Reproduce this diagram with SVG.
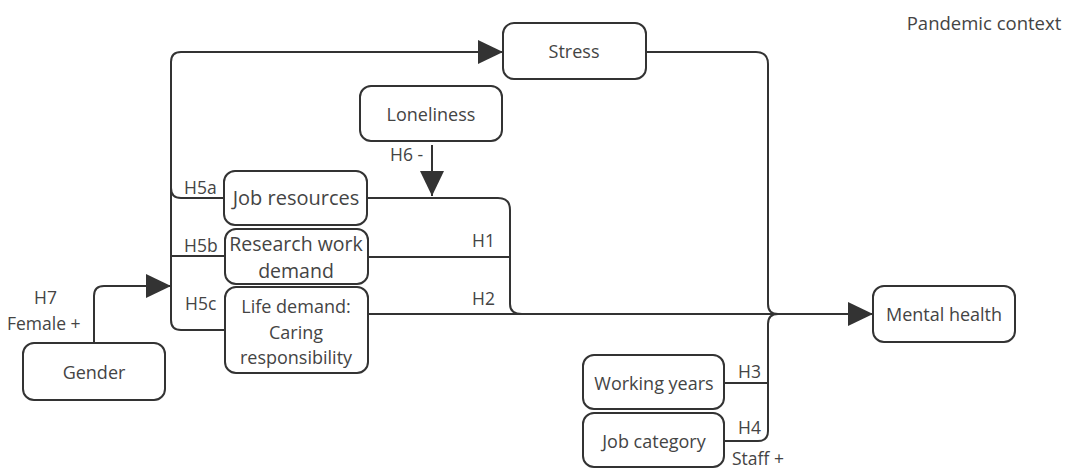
<svg xmlns="http://www.w3.org/2000/svg" width="1070" height="468" viewBox="0 0 1070 468">
<style>
.box{fill:#fff;stroke:#333;stroke-width:2}
.t{font-family:"Open Sans","Liberation Sans",sans-serif;font-size:18px;fill:#444;text-anchor:middle;dominant-baseline:central}
.l{font-family:"Open Sans","Liberation Sans",sans-serif;font-size:17.5px;fill:#444;dominant-baseline:central}
.c{fill:none;stroke:#333;stroke-width:2}
</style>
<defs>
<marker id="ah" viewBox="0 0 25 24" refX="25" refY="12" markerWidth="25" markerHeight="24" markerUnits="userSpaceOnUse" orient="auto">
<path d="M0,0 L25,12 L0,24 Z" fill="#333"/>
</marker>
</defs>
<text class="t" x="984" y="22" style="font-size:18.5px">Pandemic context</text>
<g id="connectors">
<path class="c" d="M225,330 H181 Q171,330 171,320 V62 Q171,52 181,52 H503" marker-end="url(#ah)"/>
<path class="c" d="M224,198 H181 Q171,198 171,188"/>
<path class="c" d="M171,256 H225"/>
<path class="c" d="M94,343 V296 Q94,286 104,286 H171" marker-end="url(#ah)"/>
<path class="c" d="M432,145 V196" marker-end="url(#ah)"/>
<path class="c" d="M367,198 H498 Q510,198 510,210 V304 Q510,314 522,314 H873" marker-end="url(#ah)"/>
<path class="c" d="M368,257 H510"/>
<path class="c" d="M368,314 H522"/>
<path class="c" d="M646,52 H756 Q768,52 768,64 V304 Q768,314 778,314"/>
<path class="c" d="M778,314 Q768,314 768,324 V431 Q768,441 758,441 H725"/>
<path class="c" d="M725,383 H768"/>
</g>
<g id="stress"><rect class="box" x="503" y="23" width="143" height="56" rx="11"/><text class="t" x="574" y="51">Stress</text></g>
<g id="loneliness"><rect class="box" x="360" y="86" width="142" height="55" rx="11"/><text class="t" x="431" y="114">Loneliness</text></g>
<g id="job-resources"><rect class="box" x="224" y="171" width="143" height="54" rx="11"/><text class="t" x="296" y="197" style="font-size:20px">Job resources</text></g>
<g id="research-work-demand"><rect class="box" x="225" y="229" width="143" height="55" rx="11"/><text class="t" x="296" y="243" style="font-size:19.5px">Research work</text><text class="t" x="296" y="270" style="font-size:19.5px">demand</text></g>
<g id="life-demand"><rect class="box" x="225" y="287" width="143" height="86" rx="11"/><text class="t" x="296" y="306">Life demand:</text><text class="t" x="296" y="332">Caring</text><text class="t" x="296" y="357">responsibility</text></g>
<g id="gender"><rect class="box" x="23" y="343" width="142" height="57" rx="11"/><text class="t" x="94" y="372">Gender</text></g>
<g id="mental-health"><rect class="box" x="873" y="286" width="142" height="56" rx="11"/><text class="t" x="944" y="314">Mental health</text></g>
<g id="working-years"><rect class="box" x="583" y="355" width="141" height="54" rx="11"/><text class="t" x="654" y="383">Working years</text></g>
<g id="job-category"><rect class="box" x="583" y="413" width="141" height="54" rx="11"/><text class="t" x="654" y="441">Job category</text></g>
<g id="labels">
<text class="l" x="390" y="154">H6 -</text>
<text class="l" x="184" y="187">H5a</text>
<text class="l" x="184" y="245">H5b</text>
<text class="l" x="185" y="303">H5c</text>
<text class="l" x="472" y="240">H1</text>
<text class="l" x="472" y="298">H2</text>
<text class="l" x="34" y="297">H7</text>
<text class="l" x="7" y="323">Female +</text>
<text class="l" x="738" y="371">H3</text>
<text class="l" x="738" y="427">H4</text>
<text class="l" x="732" y="458">Staff +</text>
</g>
</svg>
